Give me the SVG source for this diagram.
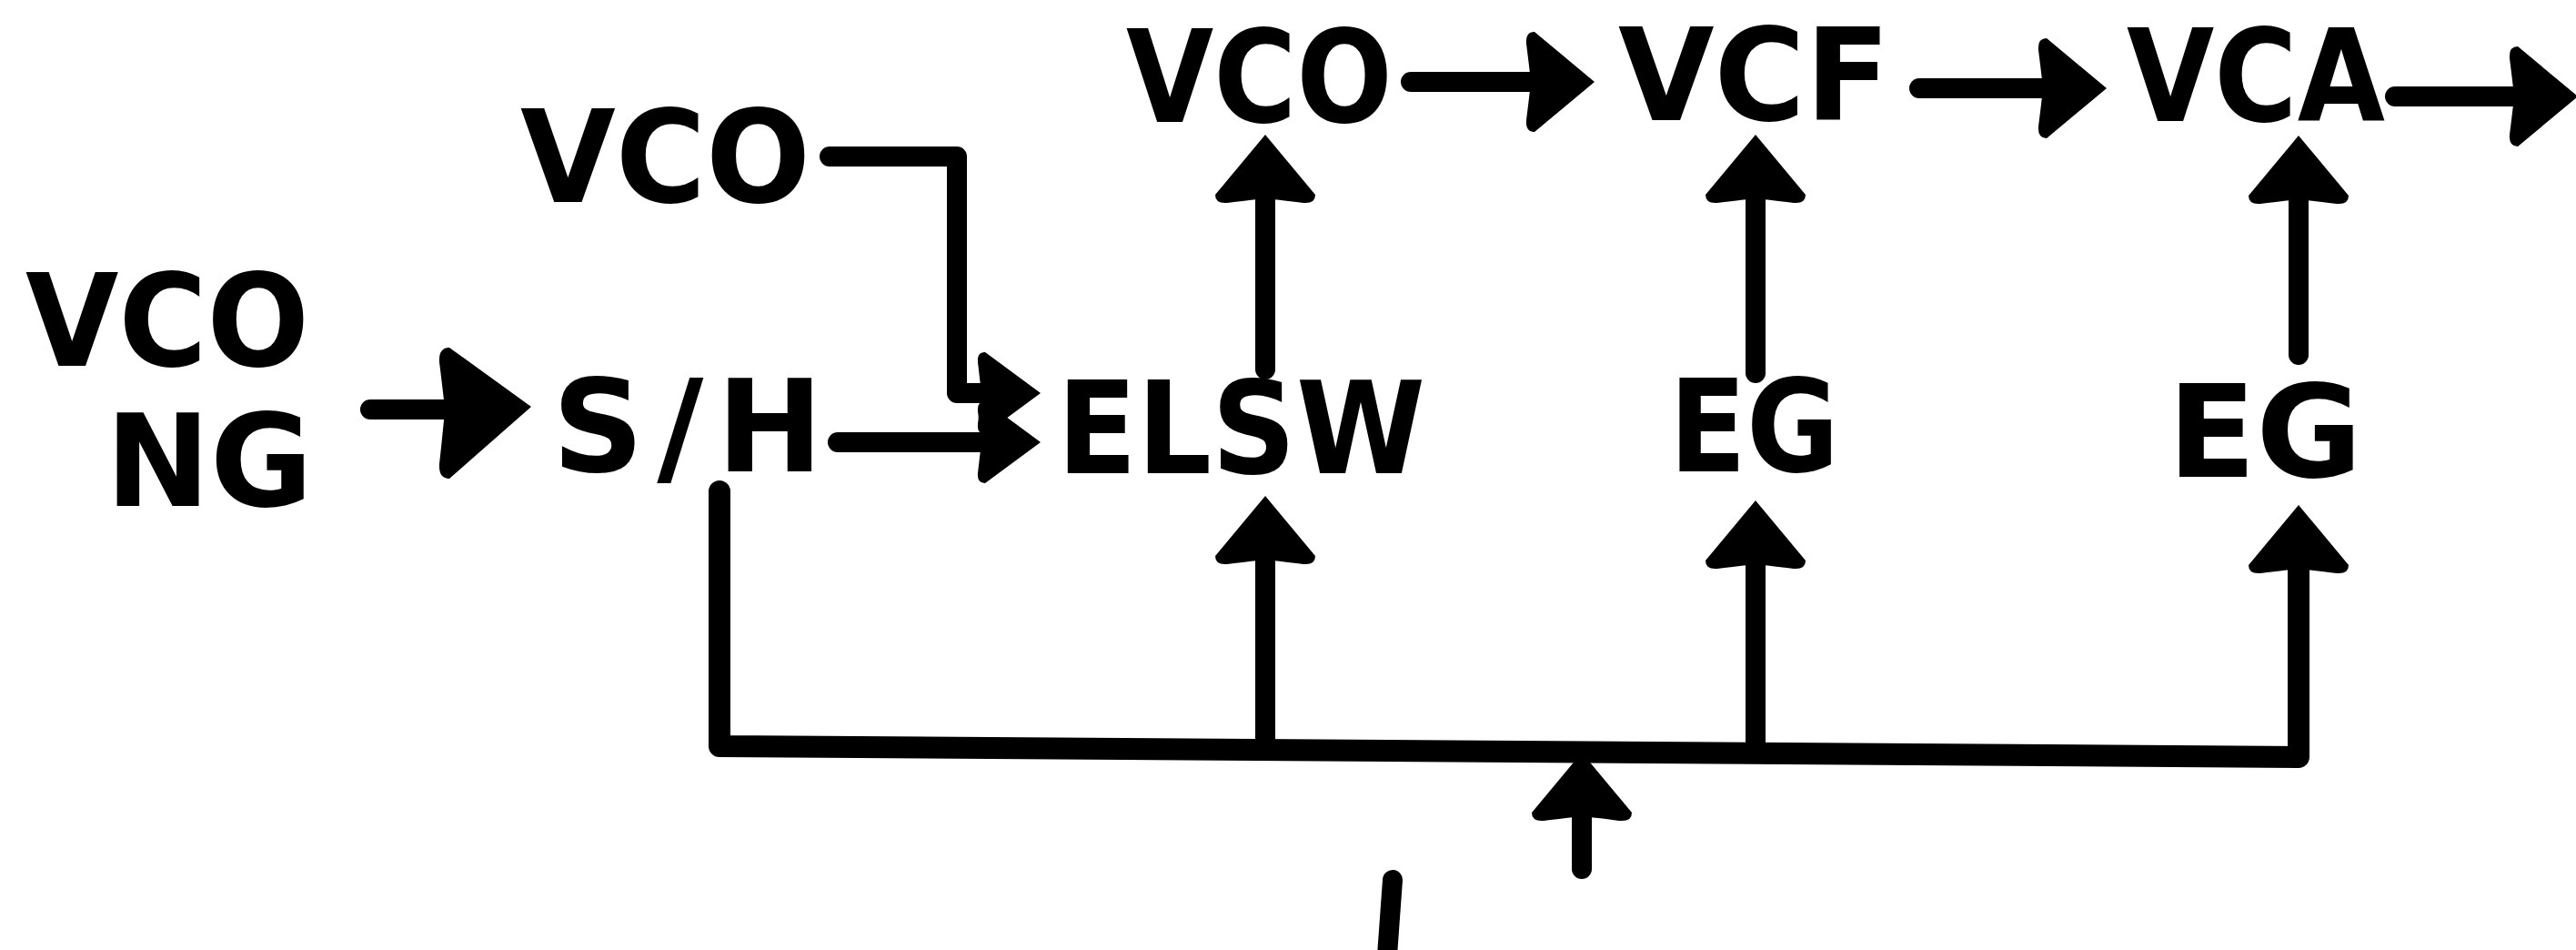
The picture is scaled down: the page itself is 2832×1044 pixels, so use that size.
<svg xmlns="http://www.w3.org/2000/svg" width="2832" height="1044" viewBox="0 0 2832 1044">
<style>
  text { font-family: "DejaVu Sans", "Liberation Sans", Arial, sans-serif; font-weight: bold; font-size: 140px; fill: #000; }
  .wire { fill: none; stroke: #000; stroke-width: 22; stroke-linecap: round; stroke-linejoin: round; }
  .bus { stroke-width: 24; }
  .head { fill: #000; }
</style>
<defs>
  <marker id="head" markerUnits="userSpaceOnUse" markerWidth="160" markerHeight="160" refX="0" refY="0" orient="auto" overflow="visible">
    <path class="head" d="M 68 0 L 2 -55 Q -8 -55 -7 -42 Q -3 -10 -2 0 Q -3 10 -7 42 Q -8 55 2 55 Z"/>
  </marker>
  <marker id="headS" markerUnits="userSpaceOnUse" markerWidth="160" markerHeight="160" refX="0" refY="0" orient="auto" overflow="visible">
    <path class="head" d="M 63 0 L 2 -45 Q -7 -45 -6 -34 Q -3 -8 -2 0 Q -3 8 -6 34 Q -7 45 2 45 Z"/>
  </marker>
  <marker id="headL" markerUnits="userSpaceOnUse" markerWidth="200" markerHeight="200" refX="0" refY="0" orient="auto" overflow="visible">
    <path class="head" d="M 92 -3 L 2 -68 Q -10 -68 -9 -52 Q -4 -12 -3 0 Q -4 14 -9 60 Q -10 76 2 76 Z"/>
  </marker>
</defs>
<rect width="2832" height="1044" fill="#fff"/>

<g id="connectors">
  <path class="wire" d="M 1551 90 H 1685" marker-end="url(#head)"/>
  <path class="wire" d="M 2110 97 H 2248" marker-end="url(#head)"/>
  <path class="wire" d="M 2633 106 H 2766" marker-end="url(#head)"/>
  <path class="wire" d="M 1391 406 V 216" marker-end="url(#head)"/>
  <path class="wire" d="M 1930 410 V 216" marker-end="url(#head)"/>
  <path class="wire" d="M 2527 390 V 217" marker-end="url(#head)"/>
  <path class="wire" d="M 912 172 H 1052 V 432 H 1081" marker-end="url(#headS)"/>
  <path class="wire" d="M 921 486 H 1081" marker-end="url(#headS)"/>
  <path class="wire" d="M 407 450 H 492" marker-end="url(#headL)"/>
  <path class="wire bus" d="M 791 540 V 820 L 2527 832 V 623" marker-end="url(#head)"/>
  <path class="wire" d="M 1391 822 V 613" marker-end="url(#head)"/>
  <path class="wire" d="M 1930 826 V 618" marker-end="url(#head)"/>
  <path class="wire" d="M 1739 955 V 895" marker-end="url(#head)"/>
  <path class="wire" d="M 1531 967 L 1525 1050"/>
</g>

<g id="node-vco-main"><text x="1238" y="134" textLength="293" lengthAdjust="spacingAndGlyphs">VCO</text></g>
<g id="node-vcf"><text x="1779" y="132" textLength="299" lengthAdjust="spacingAndGlyphs">VCF</text></g>
<g id="node-vca"><text x="2338" y="133" textLength="284" lengthAdjust="spacingAndGlyphs">VCA</text></g>
<g id="node-vco-upper"><text x="572" y="222" textLength="319" lengthAdjust="spacingAndGlyphs">VCO</text></g>
<g id="node-vco-left"><text x="28" y="402" textLength="312" lengthAdjust="spacingAndGlyphs">VCO</text></g>
<g id="node-ng"><text x="116" y="556" textLength="228" lengthAdjust="spacingAndGlyphs">NG</text></g>
<g id="node-sh"><text x="607" y="518" textLength="298" lengthAdjust="spacing">S/H</text></g>
<g id="node-elsw"><text x="1162" y="520" textLength="405" lengthAdjust="spacingAndGlyphs">ELSW</text></g>
<g id="node-eg1"><text x="1835" y="518" textLength="187" lengthAdjust="spacingAndGlyphs">EG</text></g>
<g id="node-eg2"><text x="2383" y="524" textLength="214" lengthAdjust="spacingAndGlyphs">EG</text></g>
</svg>
